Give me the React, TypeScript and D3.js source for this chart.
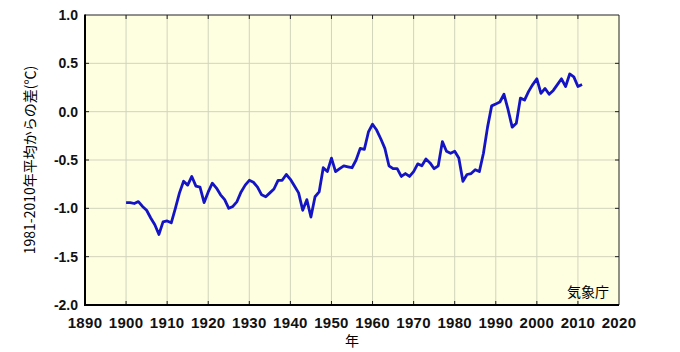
import React from "react";
import * as d3 from "d3";

const startYear = 1900;
const anomalies: number[] = [
  // 1900-1909
  -0.94, -0.94, -0.95, -0.93, -0.98, -1.02, -1.10, -1.17, -1.27, -1.14,
  // 1910-1919
  -1.13, -1.15, -1.00, -0.84, -0.72, -0.76, -0.67, -0.77, -0.78, -0.94,
  // 1920-1929
  -0.83, -0.74, -0.79, -0.86, -0.91, -1.00, -0.98, -0.93, -0.83, -0.76,
  // 1930-1939
  -0.71, -0.73, -0.78, -0.86, -0.88, -0.84, -0.80, -0.71, -0.71, -0.65,
  // 1940-1949
  -0.70, -0.77, -0.84, -1.02, -0.91, -1.09, -0.88, -0.83, -0.58, -0.62,
  // 1950-1959
  -0.48, -0.62, -0.59, -0.56, -0.57, -0.58, -0.50, -0.38, -0.39, -0.21,
  // 1960-1969
  -0.13, -0.19, -0.28, -0.38, -0.56, -0.59, -0.59, -0.67, -0.64, -0.67,
  // 1970-1979
  -0.62, -0.54, -0.56, -0.49, -0.53, -0.59, -0.56, -0.31, -0.41, -0.43,
  // 1980-1989
  -0.41, -0.48, -0.72, -0.65, -0.64, -0.60, -0.62, -0.43, -0.16, 0.06,
  // 1990-1999
  0.08, 0.10, 0.18, 0.02, -0.16, -0.12, 0.14, 0.12, 0.21, 0.28,
  // 2000-2009
  0.34, 0.19, 0.24, 0.18, 0.22, 0.28, 0.34, 0.26, 0.39, 0.36,
  // 2010-2011
  0.26, 0.28,
];

const xTicks: number[] = [1890, 1900, 1910, 1920, 1930, 1940, 1950, 1960, 1970, 1980, 1990, 2000, 2010, 2020];
const yTicks: number[] = [1.0, 0.5, 0.0, -0.5, -1.0, -1.5, -2.0];
const yLabel = "1981-2010年平均からの差(℃)";
const xLabel = "年";
const credit = "気象庁";

const W = 680;
const H = 352;
const L = 85, R = 619, T = 15, B = 305;

export default function App() {
  const x = d3.scaleLinear().domain([1890, 2020]).range([L, R]);
  const y = d3.scaleLinear().domain([-2, 1]).range([B, T]);
  const data = anomalies.map((v, i) => ({ yr: startYear + i, v }));
  const line = d3
    .line<{ yr: number; v: number }>()
    .x((d) => x(d.yr))
    .y((d) => y(d.v));
  const font = "'Liberation Sans', 'Noto Sans CJK JP', sans-serif";
  const jp = "'Noto Sans CJK JP', sans-serif";
  return (
    <div style={{ position: "absolute", left: 0, top: 0 }}>
      <svg width={W} height={H} viewBox={`0 0 ${W} ${H}`} style={{ display: "block", background: "#fff" }}>
        <rect x={L} y={T} width={R - L} height={B - T} fill="#fefee0" />
        {xTicks.slice(1, -1).map((t) => (
          <line key={"gx" + t} x1={x(t)} x2={x(t)} y1={T} y2={B} stroke="#d2d4bc" strokeWidth={1} />
        ))}
        {yTicks.slice(1, -1).map((t) => (
          <line key={"gy" + t} x1={L} x2={R} y1={y(t)} y2={y(t)} stroke="#d2d4bc" strokeWidth={1} />
        ))}
        {xTicks.slice(1, -1).map((t) => (
          <g key={"tx" + t}>
            <line x1={x(t)} x2={x(t)} y1={T} y2={T + 4} stroke="#222" strokeWidth={1} />
            <line x1={x(t)} x2={x(t)} y1={B} y2={B - 4} stroke="#222" strokeWidth={1} />
          </g>
        ))}
        {yTicks.slice(1, -1).map((t) => (
          <g key={"ty" + t}>
            <line x1={L} x2={L + 4} y1={y(t)} y2={y(t)} stroke="#222" strokeWidth={1} />
            <line x1={R} x2={R - 4} y1={y(t)} y2={y(t)} stroke="#222" strokeWidth={1} />
          </g>
        ))}
        <path d={line(data) || ""} fill="none" stroke="#1414c4" strokeWidth={2.8} strokeLinejoin="round" />
        <line x1={L} x2={R} y1={T} y2={T} stroke="#222" strokeWidth={1} />
        <line x1={R} x2={R} y1={T} y2={B} stroke="#222" strokeWidth={1} />
        <line x1={L} x2={L} y1={T - 0.5} y2={B + 1} stroke="#000" strokeWidth={2} />
        <line x1={L - 1} x2={R} y1={B} y2={B} stroke="#000" strokeWidth={2} />
        {xTicks.map((t) => (
          <text key={"lx" + t} x={x(t)} y={328} textAnchor="middle" fontFamily={font} fontSize={15} fontWeight={600} letterSpacing={0.3} fill="#111">
            {t}
          </text>
        ))}
        {yTicks.map((t) => (
          <text key={"ly" + t} x={78} y={y(t) + 5} textAnchor="end" fontFamily={font} fontSize={14} fontWeight={600} fill="#111">
            {t.toFixed(1)}
          </text>
        ))}
        <text x={352} y={346} textAnchor="middle" fontFamily={jp} fontSize={14} fill="#000">
          {xLabel}
        </text>
        <text
          transform={`translate(35,${(T + B) / 2}) rotate(-90)`}
          textAnchor="middle"
          fontFamily={jp}
          fontSize={14}
          fill="#000"
        >
          {yLabel}
        </text>
        <text x={609} y={297} textAnchor="end" fontFamily={jp} fontSize={14} fill="#000">
          {credit}
        </text>
      </svg>
    </div>
  );
}
